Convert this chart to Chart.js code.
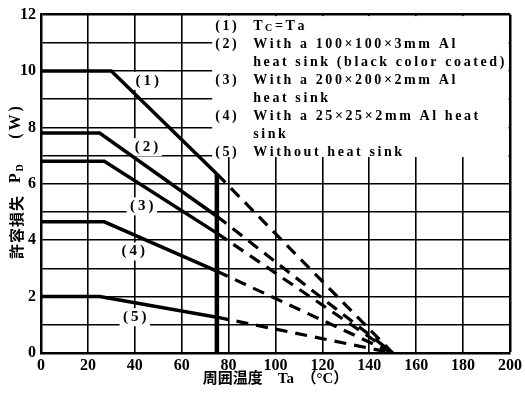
<!DOCTYPE html>
<html>
<head>
<meta charset="utf-8">
<script src="https://cdn.jsdelivr.net/npm/chart.js@4.4.0/dist/chart.umd.min.js"></script>
<style>
  html, body { margin: 0; padding: 0; background: #fff; }
</style>
</head>
<body>
<canvas id="derating" width="525" height="404"></canvas>
<script>
// PD - Ta derating
const kneeTemp = [30, 25, 27, 27, 25];        // Ta where the flat part ends (°C)
const flatPower = [10, 7.8, 6.8, 4.65, 2.0];   // PD on the flat part (W)
const cutTemp = 75;                            // solid part stops here (°C)
const cutPower = [6.35, 4.85, 4.25, 2.9, 1.27];// PD at cutTemp (W)
const zeroTemp = 150;                          // dashed part reaches 0 W here

const curveLabels = ['(1)', '(2)', '(3)', '(4)', '(5)'];
const labelTemp = [45.3, 45, 43, 39.3, 40];
const labelPower = [9.65, 7.3, 5.2, 3.6, 1.27];

const xTicks = [0, 20, 40, 60, 80, 100, 120, 140, 160, 180, 200];
const yTicks = [0, 2, 4, 6, 8, 10, 12];

const legendLines = [
  ['(1)', 'T_C=Ta'],
  ['(2)', 'With a 100×100×3mm Al'],
  ['', 'heat sink (black color coated)'],
  ['(3)', 'With a 200×200×2mm Al'],
  ['', 'heat sink'],
  ['(4)', 'With a 25×25×2mm Al heat'],
  ['', 'sink'],
  ['(5)', 'Without heat sink'],
];

const serif = '"Liberation Serif", "Noto Sans CJK JP", serif';
const cjk = '"Noto Sans CJK JP", sans-serif';

const datasets = [];
flatPower.forEach((p, i) => {
  datasets.push({
    data: [{x: 0, y: p}, {x: kneeTemp[i], y: p}, {x: cutTemp, y: cutPower[i]}],
    borderColor: '#000', borderWidth: 3.5, pointRadius: 0, tension: 0
  });
  datasets.push({
    data: [{x: cutTemp, y: cutPower[i]}, {x: zeroTemp, y: 0}],
    borderColor: '#000', borderWidth: 3.2, borderDash: [12, 8], pointRadius: 0
  });
});
// case temperature limit
datasets.push({
  data: [{x: cutTemp, y: 0}, {x: cutTemp, y: cutPower[0]}],
  borderColor: '#000', borderWidth: 4.5, pointRadius: 0
});

function drawSpaced(ctx, txt, x, y) {
  // "_X" means X is a subscript
  let cx = x;
  for (let k = 0; k < txt.length; k++) {
    let ch = txt[k];
    if (ch === '_') {
      ch = txt[++k];
      ctx.save();
      ctx.font = 'bold 10px ' + serif;
      ctx.fillText(ch, cx, y + 2);
      cx += ctx.measureText(ch).width;
      ctx.restore();
    } else {
      ctx.fillText(ch, cx, y);
      cx += ctx.measureText(ch).width;
    }
  }
}

const notes = {
  id: 'notes',
  beforeDatasetsDraw(chart) {
    const {ctx, chartArea: a, scales: {x, y}} = chart;
    ctx.save();
    // legend panel
    const bx = x.getPixelForValue(73), by = y.getPixelForValue(6.95);
    ctx.fillStyle = '#fff';
    ctx.fillRect(bx, a.top + 1.5, a.right - 1.5 - bx, by - a.top - 1.5);
    ctx.fillStyle = '#000';
    ctx.font = 'bold 14px ' + serif;
    ctx.textBaseline = 'middle';
    ctx.textAlign = 'left';
    ctx.letterSpacing = '2.6px';
    legendLines.forEach((ln, i) => {
      const ly = a.top + 12 + i * 18;
      if (ln[0]) ctx.fillText(ln[0], bx + 3, ly);
      drawSpaced(ctx, ln[1], bx + 41, ly);
    });
    // curve numbers
    ctx.font = 'bold 15px ' + serif;
    ctx.letterSpacing = '3px';
    ctx.textAlign = 'center';
    curveLabels.forEach((t, i) => {
      const px = x.getPixelForValue(labelTemp[i]);
      const py = y.getPixelForValue(labelPower[i]);
      const w = ctx.measureText(t).width + 4;
      ctx.fillStyle = '#fff';
      ctx.fillRect(px - w / 2, py - 9, w, 18);
      ctx.fillStyle = '#000';
      ctx.fillText(t, px + 1.5, py);
    });
    ctx.restore();
  },
  afterDraw(chart) {
    const {ctx} = chart;
    ctx.save();
    ctx.translate(16, 0);
    ctx.rotate(-Math.PI / 2);
    ctx.fillStyle = '#000';
    ctx.textBaseline = 'middle';
    ctx.textAlign = 'center';
    ctx.font = 'bold 15px ' + cjk;
    ctx.letterSpacing = '1px';
    ctx.fillText('許容損失', -227, 0);
    ctx.font = 'bold 16px ' + serif;
    ctx.letterSpacing = '0px';
    ctx.fillText('P', -178, 0);
    ctx.font = 'bold 10px ' + serif;
    ctx.fillText('D', -168, 4);
    ctx.font = 'bold 16px ' + serif;
    ctx.letterSpacing = '3px';
    ctx.fillText('(W)', -121, 0);
    ctx.restore();
  }
};

new Chart(document.getElementById('derating'), {
  type: 'line',
  data: {datasets: datasets},
  options: {
    responsive: false,
    animation: false,
    devicePixelRatio: 1,
    layout: {padding: {top: 13, right: 12, bottom: 16, left: 0}},
    plugins: {legend: {display: false}, tooltip: {enabled: false}},
    scales: {
      x: {
        type: 'linear', min: 0, max: 200,
        afterBuildTicks: s => { s.ticks = xTicks.map(v => ({value: v})); },
        afterFit: s => { s.height = 35; },
        ticks: {color: '#000', font: {family: serif, size: 16, weight: 'bold'}, padding: 3, maxRotation: 0, autoSkip: false},
        grid: {color: '#000', drawTicks: false, lineWidth: c => (c.tick && c.tick.value === 200) ? 2.5 : 1.6},
        border: {color: '#000', width: 2.5},
        title: {
          display: true, text: '周囲温度　Ta　（°C）', color: '#000',
          font: {family: serif, size: 15, weight: 'bold'}, padding: {top: 0, bottom: 0}
        }
      },
      y: {
        min: 0, max: 12,
        ticks: {
          stepSize: 1, color: '#000', padding: 5,
          font: {family: serif, size: 16, weight: 'bold'},
          callback: v => yTicks.includes(v) ? v : ''
        },
        afterFit: s => { s.width = 41; },
        grid: {color: '#000', drawTicks: false, lineWidth: c => (c.tick && c.tick.value === 12) ? 2.5 : 1.6},
        border: {color: '#000', width: 2.5}
      }
    }
  },
  plugins: [notes]
});
</script>
</body>
</html>
